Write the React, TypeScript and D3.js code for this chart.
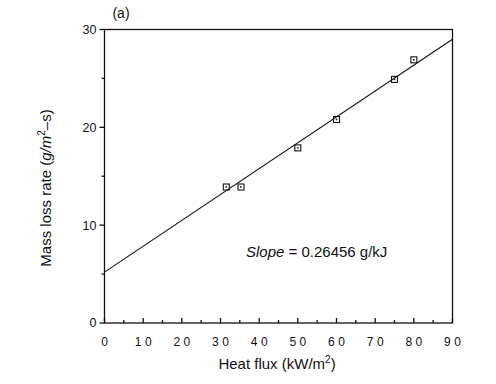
import React from "react";
import * as d3 from "d3";

const heatFlux = [31.5, 35.3, 50, 60, 75, 80];
const massLoss = [13.9, 13.9, 17.9, 20.8, 24.9, 26.9];
const xTicks = [0, 10, 20, 30, 40, 50, 60, 70, 80, 90];
const xMinor = [5, 15, 25, 35, 45, 55, 65, 75, 85];
const yTicks = [0, 10, 20, 30];
const yMinor = [5, 15, 25];
const slope = 0.26456;
const intercept = 5.2;
const fitX = [0, 90];

export default function App() {
  const W = 496, H = 384;
  const x = d3.scaleLinear().domain([0, 90]).range([104.5, 452.5]);
  const y = d3.scaleLinear().domain([0, 30]).range([323, 29.5]);
  const line = d3.line<number>().x((d) => x(d)).y((d) => y(intercept + slope * d));
  const font = "'Liberation Sans', Arial, sans-serif";
  return (
    <svg width={W} height={H} style={{ position: "absolute", left: 0, top: 0, background: "#fff" }}>
      <rect x={0} y={0} width={W} height={H} fill="#fff" />
      <g stroke="#111" fill="none" strokeWidth={1.3}>
        <rect x={x(0)} y={y(30)} width={x(90) - x(0)} height={y(0) - y(30)} />
        {yTicks.map((t) => (
          <line key={"yt" + t} x1={x(0) - 5} x2={x(0)} y1={y(t)} y2={y(t)} />
        ))}
        {yMinor.map((t) => (
          <line key={"ym" + t} x1={x(0) - 3} x2={x(0)} y1={y(t)} y2={y(t)} />
        ))}
        {xTicks.map((t) => (
          <line key={"xt" + t} x1={x(t)} x2={x(t)} y1={y(0)} y2={y(0) - 5} />
        ))}
        {xMinor.map((t) => (
          <line key={"xm" + t} x1={x(t)} x2={x(t)} y1={y(0)} y2={y(0) - 3} />
        ))}
        <path d={line(fitX) || ""} strokeWidth={1.1} />
        {heatFlux.map((h, i) => (
          <g key={"p" + i}>
            <rect x={x(h) - 3} y={y(massLoss[i]) - 3} width={6} height={6} strokeWidth={1.1} />
            <rect x={x(h) - 0.5} y={y(massLoss[i]) - 0.5} width={1} height={1} fill="#111" strokeWidth={0.5} />
          </g>
        ))}
      </g>
      <g fill="#111" fontFamily={font}>
        {yTicks.map((t) => (
          <text key={"yl" + t} x={x(0) - 8} y={y(t)} dy="0.35em" textAnchor="end" fontSize={12.5}>
            {t}
          </text>
        ))}
        {xTicks.map((t) => (
          <text key={"xl" + t} x={x(t)} y={342} dy="0.35em" textAnchor="middle" fontSize={12} letterSpacing={3.5} dx={1.75}>
            {t}
          </text>
        ))}
        <text x={277} y={369} textAnchor="middle" fontSize={15}>
          Heat flux (kW/m<tspan dy={-6} fontSize={10}>2</tspan><tspan dy={6}>)</tspan>
        </text>
        <text transform="translate(51,188) rotate(-90)" textAnchor="middle" fontSize={15}>
          Mass loss rate (<tspan fontStyle="italic">g/m</tspan><tspan dy={-6} fontSize={10}>2</tspan><tspan dy={6}>–s)</tspan>
        </text>
        <text x={121} y={18} textAnchor="middle" fontSize={14}>(a)</text>
        <text x={246} y={257} fontSize={15}>
          <tspan fontStyle="italic">Slope</tspan> = 0.26456 g/kJ
        </text>
      </g>
    </svg>
  );
}
